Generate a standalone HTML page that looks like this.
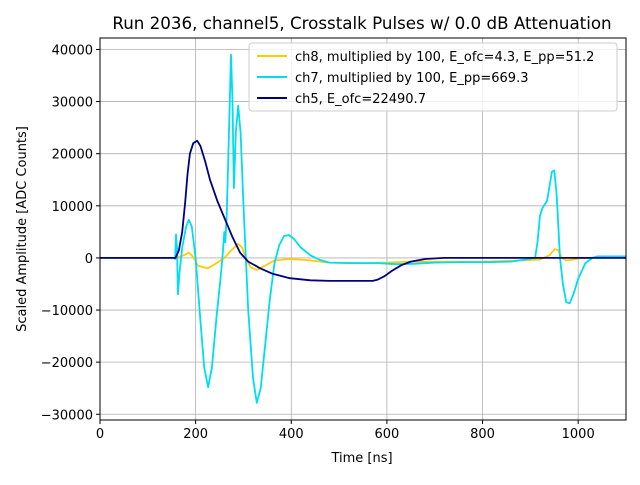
<!DOCTYPE html>
<html><head><meta charset="utf-8"><style>
body{margin:0;background:#fff;}
text{font-family:"DejaVu Sans","Liberation Sans",sans-serif;}
</style></head><body>
<svg id="chart" width="640" height="480" xmlns="http://www.w3.org/2000/svg">
<rect width="640" height="480" fill="#fff"/>
<text x="362" y="29" text-anchor="middle" font-size="16.7">Run 2036, channel5, Crosstalk Pulses w/ 0.0 dB Attenuation</text>
<g id="grid"></g>
<g id="series"></g>
<rect x="100" y="38" width="526" height="382" fill="none" stroke="#000" stroke-width="1"/>
<g id="ticks"></g>
<text x="362" y="462" text-anchor="middle" font-size="13">Time [ns]</text>
<text transform="translate(26,229) rotate(-90)" text-anchor="middle" font-size="13">Scaled Amplitude [ADC Counts]</text>
<g>
<rect x="249" y="43" width="368" height="68" rx="3" fill="#fff" fill-opacity="0.8" stroke="#ccc"/>
<g><line x1="257" y1="56" x2="287" y2="56" stroke="#ffcc00" stroke-width="2"/><text x="295" y="61" font-size="13">ch8, multiplied by 100, E_ofc=4.3, E_pp=51.2</text></g>
<g><line x1="257" y1="77" x2="287" y2="77" stroke="#00ddf0" stroke-width="2"/><text x="295" y="82" font-size="13">ch7, multiplied by 100, E_pp=669.3</text></g>
<g><line x1="257" y1="98" x2="287" y2="98" stroke="#000080" stroke-width="2"/><text x="295" y="103" font-size="13">ch5, E_ofc=22490.7</text></g>
</g>
</svg>
<script>
const xTicks=[0,200,400,600,800,1000];
const yTicks=[-30000,-20000,-10000,0,10000,20000,30000,40000];
const ch5T=[0,158,165,172,178,183,188,195,203,210,220,230,245,261,277,293,310,335,360,397,440,481,570,580,595,610,630,650,680,720,1100];
const ch5V=[0,0,1500,5000,10500,16000,20000,22000,22500,21500,18500,15000,11000,7500,4000,1000,-700,-2000,-3000,-3900,-4300,-4400,-4400,-4200,-3500,-2500,-1400,-700,-200,0,0];
const ch7T=[0,155,157,159,161,163,166,172,180,186,192,200,210,218,226,234,244,252,256,260,262,265,270,274,277,280,284,289,294,300,310,320,328,336,345,355,365,375,385,395,405,420,440,460,480,520,580,620,660,700,760,820,860,890,910,915,920,925,935,945,950,955,962,968,975,982,990,1000,1015,1030,1040,1100];
const ch7V=[0,0,-200,4500,2000,-7000,-3000,2000,6000,7300,6000,0,-12000,-21000,-24800,-21000,-11000,-4000,0,5000,3000,8000,25000,39000,30000,13400,24000,29200,24000,10000,-10000,-23000,-27800,-25000,-17000,-8000,-1000,2500,4200,4400,3700,2000,500,-400,-900,-1000,-1000,-1200,-1100,-900,-800,-800,-700,-300,0,3000,8000,9500,11000,16500,16800,12000,0,-5000,-8500,-8700,-7000,-4000,-1000,0,300,300];
const ch8T=[0,160,175,186,195,205,225,240,260,275,289,297,305,315,328,345,365,395,430,480,560,600,650,700,800,880,920,940,951,958,966,975,990,1010,1100];
const ch8V=[0,0,500,1000,200,-1500,-2000,-1200,0,1500,2700,2000,0,-1800,-2300,-1500,-500,-200,-400,-900,-1000,-900,-700,-700,-700,-500,-300,500,1700,1500,0,-500,-300,0,0];
const X0=100,X1=626,Y0=38,Y1=420,xmin=0,xmax=1100,ymin=-31100,ymax=42200;
const sx=v=>X0+(v-xmin)/(xmax-xmin)*(X1-X0);
const sy=v=>Y1-(v-ymin)/(ymax-ymin)*(Y1-Y0);
const NS='http://www.w3.org/2000/svg';
const grid=document.getElementById('grid'),ticks=document.getElementById('ticks'),ser=document.getElementById('series');
function mk(tag,attrs,parent){const e=document.createElementNS(NS,tag);for(const k in attrs)e.setAttribute(k,attrs[k]);parent.appendChild(e);return e;}
xTicks.forEach(t=>{
  const x=sx(t);
  const g=mk('line',{x1:x,x2:x,y1:Y0,y2:Y1,stroke:'#b0b0b0','stroke-width':0.8},grid);
  
  
  mk('line',{x1:x,x2:x,y1:Y1,y2:Y1+4,stroke:'#000'},ticks);
  const l=mk('text',{x:x,y:Y1+18,'text-anchor':'middle','font-size':13},ticks);
  l.textContent=t;
  
  
});
yTicks.forEach(t=>{
  const y=sy(t);
  const g=mk('line',{x1:X0,x2:X1,y1:y,y2:y,stroke:'#b0b0b0','stroke-width':0.8},grid);
  
  
  mk('line',{x1:X0-4,x2:X0,y1:y,y2:y,stroke:'#000'},ticks);
  const l=mk('text',{x:X0-7,y:y+5,'text-anchor':'end','font-size':13},ticks);
  l.textContent=(t<0?'\u2212':'')+Math.abs(t);
  
  
});
function line(T,V,color,name){
  const p=T.map((t,i)=>sx(t).toFixed(1)+','+sy(V[i]).toFixed(1)).join(' ');
  const e=mk('polyline',{points:p,fill:'none',stroke:color,'stroke-width':1.8,'stroke-linejoin':'round'},ser);
  
  
}
line(ch8T,ch8V,'#ffcc00','ch8-line');
line(ch7T,ch7V,'#00ddf0','ch7-line');
line(ch5T,ch5V,'#000080','ch5-line');
</script>
</body></html>
